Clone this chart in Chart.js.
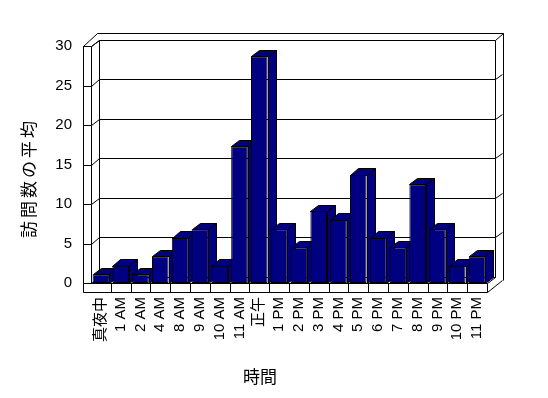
<!DOCTYPE html>
<html lang="ja">
<head>
<meta charset="UTF-8" />
<title>訪問数の平均</title>
<script src="https://cdn.jsdelivr.net/npm/chart.js"></script>
<style>
  body { margin: 0; background: #fff; }
  canvas { display: block; }
</style>
</head>
<body>
<canvas id="chart" width="548" height="398"></canvas>
<script>
  const hours = ['真夜中', '1 AM', '2 AM', '4 AM', '8 AM', '9 AM', '10 AM', '11 AM', '正午',
    '1 PM', '2 PM', '3 PM', '4 PM', '5 PM', '6 PM', '7 PM', '8 PM', '9 PM', '10 PM', '11 PM'];
  const avgVisits = [1.1, 2.2, 1.1, 3.4, 5.7, 6.8, 2.2, 17.3, 28.7, 6.8,
    4.5, 9.1, 8.0, 13.7, 5.7, 4.5, 12.5, 6.8, 2.2, 3.4];
  const yTicks = [0, 5, 10, 15, 20, 25, 30];

  const NAVY = '#000080';
  const DX = 8, DY = 6.5;   // depth offset of the 3d box
  const FONT = '"Liberation Sans", "Noto Sans CJK JP", sans-serif';
  const JFONT = '"Noto Sans CJK JP", sans-serif';

  const p = v => Math.round(v) + 0.5;

  function seg(ctx, pts) {
    ctx.beginPath();
    ctx.moveTo(p(pts[0][0]), p(pts[0][1]));
    for (let i = 1; i < pts.length; i++) ctx.lineTo(p(pts[i][0]), p(pts[i][1]));
    ctx.stroke();
  }

  function poly(ctx, pts, fill) {
    ctx.beginPath();
    ctx.moveTo(p(pts[0][0]), p(pts[0][1]));
    for (let i = 1; i < pts.length; i++) ctx.lineTo(p(pts[i][0]), p(pts[i][1]));
    ctx.closePath();
    ctx.fillStyle = fill;
    ctx.fill();
    ctx.stroke();
  }

  // walls, floor and the top/side faces of the columns
  const box3d = {
    id: 'box3d',
    beforeDatasetsDraw(chart) {
      const { ctx, chartArea: a, scales: { x, y } } = chart;
      const x0 = a.left, x1 = a.right;
      const yt = y.getPixelForValue(30), yb = y.getPixelForValue(0);
      ctx.save();
      ctx.strokeStyle = '#000';
      ctx.lineWidth = 1;

      // back wall
      poly(ctx, [[x0 + DX, yt - DY], [x1 + DX, yt - DY], [x1 + DX, yb - DY], [x0 + DX, yb - DY]], '#fff');
      seg(ctx, [[x0 + DX - 2, yt - 2 * DY], [x1 + DX + 8, yt - 2 * DY], [x1 + DX + 8, yb - 3]]);
      seg(ctx, [[x1 + DX, yt - DY], [x1 + DX + 8, yt - 2 * DY]]);

      // left wall
      seg(ctx, [[x0 - 8, yb + 9], [x0 - 8, yt], [x0, yt], [x0, yb]]);
      seg(ctx, [[x0 - 8, yt], [x0 + DX - 2, yt - 2 * DY]]);
      seg(ctx, [[x0, yt], [x0 + DX, yt - DY]]);

      // grid lines
      yTicks.forEach(v => {
        const yy = y.getPixelForValue(v);
        if (v > 0 && v < 30) {
          seg(ctx, [[x0 + DX, yy - DY], [x1 + DX, yy - DY]]);
          seg(ctx, [[x1 + DX, yy - DY], [x1 + DX + 7, yy - DY - 5]]);
        }
        if (v > 0 && v <= 30) {
          seg(ctx, [[x0 - 8, yy], [x0, yy], [x0 + DX, yy - DY]]);
        }
      });

      // floor
      poly(ctx, [[x0, yb], [x0 + DX, yb - DY], [x1 + DX, yb - DY], [x1, yb]], '#fff');
      poly(ctx, [[x0 - 8, yb], [x1, yb], [x1, yb + 9], [x0 - 8, yb + 9]], '#fff');
      seg(ctx, [[x1, yb + 9], [x1 + DX + 7, yb - 3]]);
      const n = hours.length;
      for (let i = 1; i < n; i++) {
        const bx = (x.getPixelForValue(i - 1) + x.getPixelForValue(i)) / 2;
        seg(ctx, [[bx, yb], [bx, yb + 9]]);
      }

      // column tops and sides (fronts are drawn by Chart.js on top)
      chart.getDatasetMeta(0).data.forEach(bar => {
        const { x: cx, y: top, base, width } = bar.getProps(['x', 'y', 'base', 'width'], true);
        const l = cx - width / 2, r = cx + width / 2;
        poly(ctx, [[l, top], [l + DX, top - DY], [r + DX, top - DY], [r, top]], NAVY);
        poly(ctx, [[r, top], [r + DX, top - DY], [r + DX, base - DY], [r, base]], NAVY);
      });
      ctx.restore();
    },
    afterDraw(chart) {
      const { ctx } = chart;
      ctx.save();
      ctx.fillStyle = '#000';
      ctx.font = '17px ' + JFONT;
      ctx.textAlign = 'center';
      ctx.textBaseline = 'middle';
      ctx.fillText('時間', 260, 377);
      ctx.letterSpacing = '3px';
      ctx.translate(29, 178);
      ctx.rotate(-Math.PI / 2);
      ctx.fillText('訪問数の平均', 0, 0);
      ctx.restore();
    }
  };

  new Chart(document.getElementById('chart'), {
    type: 'bar',
    data: {
      labels: hours,
      datasets: [{
        data: avgVisits,
        backgroundColor: NAVY,
        borderColor: '#000',
        borderWidth: 1,
        borderSkipped: false,
        barPercentage: 0.84,
        categoryPercentage: 1.0
      }]
    },
    options: {
      responsive: false,
      animation: false,
      layout: { padding: { top: 46, right: 61, left: 0, bottom: 0 } },
      plugins: { legend: { display: false }, tooltip: { enabled: false } },
      scales: {
        x: {
          grid: { display: false, drawTicks: false },
          border: { display: false },
          ticks: {
            color: '#000', font: { family: FONT, size: 15 },
            maxRotation: 90, minRotation: 90, autoSkip: false, padding: 14
          },
          afterFit: s => { s.height = 115; }
        },
        y: {
          min: 0, max: 30,
          grid: { display: false, drawTicks: false },
          border: { display: false },
          ticks: {
            color: '#000', font: { family: FONT, size: 15 },
            stepSize: 5, padding: 19
          },
          afterFit: s => { s.width = 91; }
        }
      }
    },
    plugins: [box3d]
  });
</script>
</body>
</html>
